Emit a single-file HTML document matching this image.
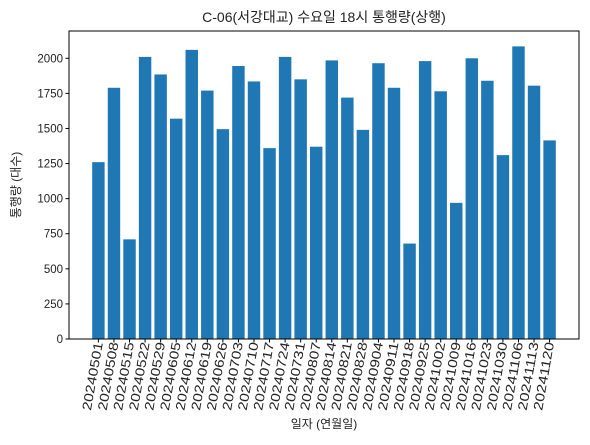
<!DOCTYPE html>
<html><head><meta charset="utf-8"><style>
body{margin:0;background:#fff;}
svg text{font-family:"Liberation Sans","Noto Sans CJK KR",sans-serif;fill:#222;}
</style></head><body>
<svg id="chart" width="590" height="440" xmlns="http://www.w3.org/2000/svg">
<text x="324" y="22" font-size="14" text-anchor="middle">C-06(서강대교) 수요일 18시 통행량(상행)</text>
<text transform="translate(20,185) rotate(-90)" font-size="12" text-anchor="middle">통행량 (대수)</text>
<text x="324" y="428" font-size="12" text-anchor="middle">일자 (연월일)</text>
<g id="bars"></g><g id="yticks"></g><g id="xticks"></g>
<rect x="69" y="31" width="510" height="308" fill="none" stroke="#000" stroke-width="1"/>
</svg>
<script>
const categories=["20240501","20240508","20240515","20240522","20240529","20240605","20240612","20240619","20240626","20240703","20240710","20240717","20240724","20240731","20240807","20240814","20240821","20240828","20240904","20240911","20240918","20240925","20241002","20241009","20241016","20241023","20241030","20241106","20241113","20241120"];
const values=[1260,1790,710,2010,1885,1570,2060,1770,1495,1945,1835,1360,2010,1850,1370,1985,1720,1490,1965,1790,680,1980,1765,970,2000,1840,1310,2085,1805,1415];
const yTicks=[0,250,500,750,1000,1250,1500,1750,2000];
const NS="http://www.w3.org/2000/svg";
const L=69,R=579,T=31,B=339;
const n=categories.length;
const xmin=-1.89,xmax=n-1+1.89;
const x=i=>L+(i-xmin)/(xmax-xmin)*(R-L);
const y=v=>B-v*(B-58.3)/2000;
const bw=0.8*(R-L)/(xmax-xmin);
const gb=document.getElementById('bars'),gy=document.getElementById('yticks'),gx=document.getElementById('xticks');
function mk(tag,attrs,parent){const e=document.createElementNS(NS,tag);for(const k in attrs)e.setAttribute(k,attrs[k]);parent.appendChild(e);return e;}
values.forEach((v,i)=>{
  const r=mk('rect',{x:x(i)-bw/2,y:y(v),width:bw,height:B-y(v),fill:'#1f77b4'},gb);
  
  
});
yTicks.forEach(t=>{
  const l=mk('line',{x1:L-3.5,x2:L,y1:y(t),y2:y(t),stroke:'#000'},gy);
  
  
  const tx=mk('text',{x:L-6,y:y(t)+4,'font-size':11.5,'text-anchor':'end'},gy);
  tx.textContent=t;
  
  
});
categories.forEach((c,i)=>{
  const l=mk('line',{x1:x(i),x2:x(i),y1:B,y2:B+3.5,stroke:'#000'},gx);
  
  
  const tx=mk('text',{transform:`translate(${x(i)+4.5},${B+4}) rotate(-80)`,'font-size':13,'text-anchor':'end',textLength:69,lengthAdjust:'spacingAndGlyphs'},gx);
  tx.textContent=c;
  
  
});
</script>
</body></html>
